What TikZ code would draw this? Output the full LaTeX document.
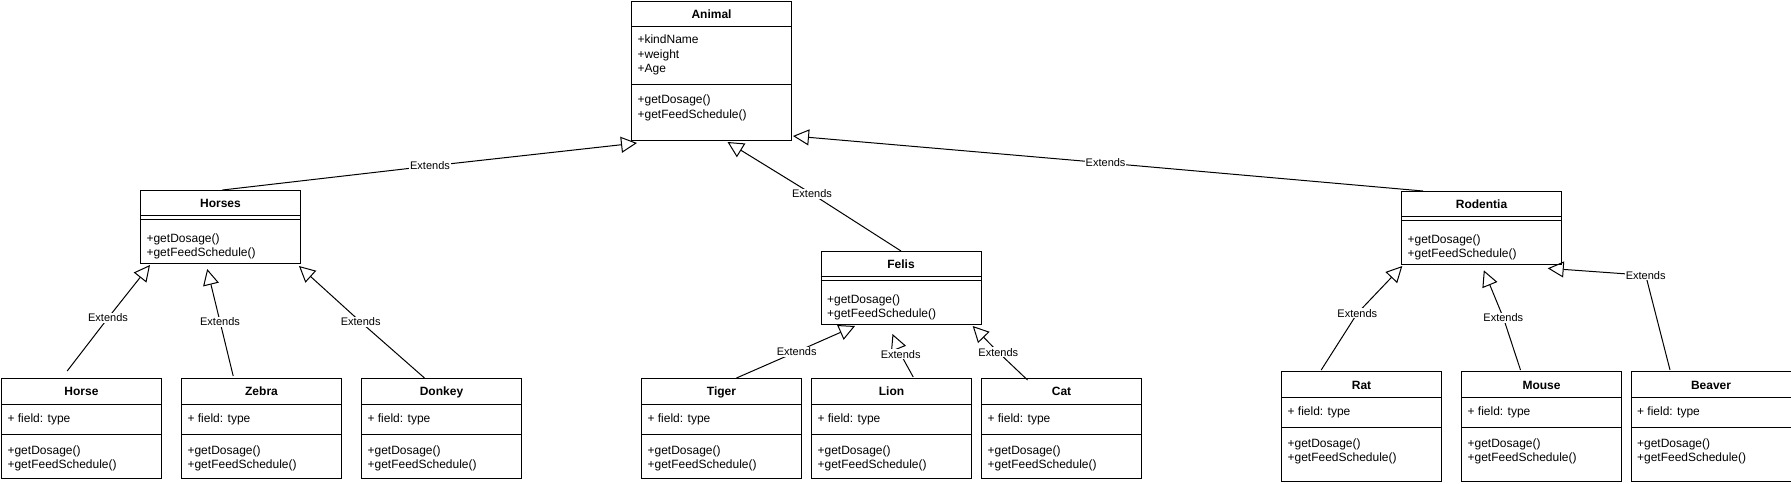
\documentclass[tikz,border=0pt]{standalone}
\usepackage{fontspec}
\setmainfont{Liberation Sans}
\usetikzlibrary{arrows.meta,calc}

\tikzset{
  box/.style={draw, line width=0.75pt, minimum width=120pt, inner sep=0pt, anchor=north west, fill=white},
  ttl/.style={font=\fontsize{9}{10.8}\selectfont\bfseries, inner sep=0pt, anchor=base},
  txt/.style={font=\fontsize{9}{10.8}\selectfont, inner sep=0pt, anchor=base west},
  sepline/.style={line width=0.75pt},
  ext/.style={line width=0.75pt, -{Triangle[open, length=12pt, width=12pt, line width=0.75pt]}},
  extlbl/.style={font=\fontsize{8.25}{9.9}\selectfont, fill=white, inner sep=0.6pt},
}

% leaf class: name, x, y, height, title
\newcommand{\mkleaf}[5]{%
  \node[box, minimum height=#4] (#1) at (#2,#3) {};
  \node[ttl] (#1-t) at ($(#1.north)+(0,18)$) {#5};
  \draw[sepline] ($(#1.north west)+(0,26)$) -- ($(#1.north east)+(0,26)$);
  \draw[sepline] ($(#1.north west)+(0,56)$) -- ($(#1.north east)+(0,56)$);
  \node[txt] (#1-f) at ($(#1.north west)+(6.3,44)$) {+ field: type};
  \node[txt] (#1-m1) at ($(#1.north west)+(6.3,76)$) {+getDosage()};
  \node[txt] (#1-m2) at ($(#1.north west)+(6.3,90.3)$) {+getFeedSchedule()};
}
% middle class: name, x, y, title
\newcommand{\mkmid}[4]{%
  \node[box, minimum height=54.75pt] (#1) at (#2,#3) {};
  \node[ttl] (#1-t) at ($(#1.north)+(0,18)$) {#4};
  \draw[sepline] ($(#1.north west)+(0,26)$) -- ($(#1.north east)+(0,26)$);
  \draw[sepline] ($(#1.north west)+(0,29.5)$) -- ($(#1.north east)+(0,29.5)$);
  \node[txt] (#1-m1) at ($(#1.north west)+(6.3,52.5)$) {+getDosage()};
  \node[txt] (#1-m2) at ($(#1.north west)+(6.3,66.5)$) {+getFeedSchedule()};
}

\begin{document}
\begin{tikzpicture}[x=0.75pt, y=-0.75pt]
\useasboundingbox (0,0) rectangle (1791,484);

% Animal
\node[box, minimum height=104.25pt] (animal) at (631,1) {};
\node[ttl] (animal-t) at ($(animal.north)+(0,18)$) {Animal};
\draw[sepline] ($(animal.north west)+(0,25.5)$) -- ($(animal.north east)+(0,25.5)$);
\draw[sepline] ($(animal.north west)+(0,83.5)$) -- ($(animal.north east)+(0,83.5)$);
\node[txt] (animal-a1) at ($(animal.north west)+(6.3,43)$) {+kindName};
\node[txt] (animal-a2) at ($(animal.north west)+(6.3,57.4)$) {+weight};
\node[txt] (animal-a3) at ($(animal.north west)+(6.3,71.8)$) {+Age};
\node[txt] (animal-m1) at ($(animal.north west)+(6.3,103)$) {+getDosage()};
\node[txt] (animal-m2) at ($(animal.north west)+(6.3,117.4)$) {+getFeedSchedule()};

% middle classes
\mkmid{horses}{140}{190}{Horses}
\mkmid{felis}{820.5}{251}{Felis}
\mkmid{rodentia}{1401}{191}{Rodentia}

% leaves
\mkleaf{horse}{1}{378}{75pt}{Horse}
\mkleaf{zebra}{181}{378}{75pt}{Zebra}
\mkleaf{donkey}{361}{378}{75pt}{Donkey}
\mkleaf{tiger}{641}{378}{75pt}{Tiger}
\mkleaf{lion}{811}{378}{75pt}{Lion}
\mkleaf{cat}{981}{378}{75pt}{Cat}
\mkleaf{rat}{1281}{371}{82.5pt}{Rat}
\mkleaf{mouse}{1461}{371}{82.5pt}{Mouse}
\mkleaf{beaver}{1630.5}{371}{82.5pt}{Beaver}

% generalisations
\draw[ext] ($(horses.north)+(2,0)$) -- (430,166) node[extlbl] (l1) {Extends} -- ($(animal.south west)+(6,2)$);
\draw[ext] (felis.north) -- (812,194) node[extlbl] (l2) {Extends} -- ($(animal.south)+(16,1)$);
\draw[ext] ($(rodentia.north west)+(22,0)$) -- (1105.6,163) node[extlbl] (l3) {Extends} -- ($(animal.south east)+(1,-5)$);

\draw[ext] ($(horse.north)+(-14.3,-7)$) -- (108,318) node[extlbl] (l4) {Extends} -- ($(horses.south west)+(10,1)$);
\draw[ext] ($(zebra.north)+(-28.3,-2)$) -- (220,321.7) node[extlbl] (l5) {Extends} -- ($(horses.south)+(-13.3,5)$);
\draw[ext] ($(donkey.north)+(-17,0)$) -- (360.7,322) node[extlbl] (l6) {Extends} -- ($(horses.south east)+(-2,2)$);

\draw[ext] ($(tiger.north)+(15,0)$) -- (796.7,351.7) node[extlbl] (l7) {Extends} -- ($(felis.south west)+(34.5,1)$);
\draw[ext] ($(lion.north)+(21.7,-1)$) -- (900.7,354.3) node[extlbl] (l8) {Extends} -- ($(felis.south)+(-8.5,9)$);
\draw[ext] ($(cat.north)+(-34,2)$) -- (998.3,352.3) node[extlbl] (l9) {Extends} -- ($(felis.south east)+(-8.8,1)$);

\draw[ext] ($(rat.north)+(-40.3,-1)$) -- (1357.3,313.3) node[extlbl] (l10) {Extends} -- ($(rodentia.south west)+(1.3,1)$);
\draw[ext] ($(mouse.north)+(-21,-1)$) -- (1503.3,317.7) node[extlbl] (l11) {Extends} -- ($(rodentia.south)+(2.3,5.3)$);
\draw[ext] ($(beaver.north)+(-41,-1)$) -- (1645.7,275.3) node[extlbl] (l12) {Extends} -- ($(rodentia.south east)+(-14.3,3.3)$);
\end{tikzpicture}
\end{document}
